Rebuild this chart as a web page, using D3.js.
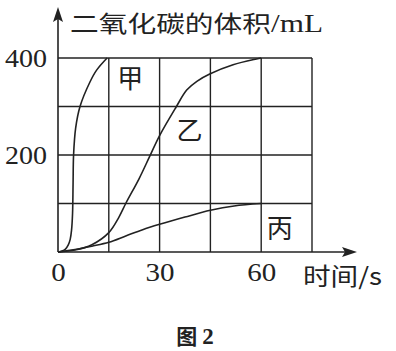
<!DOCTYPE html>
<html>
<head>
<meta charset="utf-8">
<script src="https://cdn.jsdelivr.net/npm/d3@7"></script>
<style>
  body { margin: 0; background: #fff; }
  .grid line { stroke: #222; stroke-width: 1.4; }
  .curve { fill: none; stroke: #222; stroke-width: 1.6; }
  .cn { font-family: "Noto Sans CJK SC", sans-serif; fill: #222; }
  .num { font-family: "Liberation Serif", serif; fill: #222; }
</style>
</head>
<body>
<script>
// time (s) / volume (mL)
const gridTimes = [15, 30, 45, 60, 75];
const gridVolumes = [100, 200, 300, 400];
const xTicks = [0, 30, 60];
const yTicks = [200, 400];

const jia = [[0,0],[1.2,2],[2.2,6],[3,14],[3.6,26],[4.0,45],[4.3,80],[4.45,140],[4.6,200],[5.2,255],[6.5,300],[9.4,350],[11.4,375],[14.5,400]];
const yi = [[0,0],[5,4],[10,15],[15,40],[18,72],[20,100],[24,152],[27,196],[30,240],[34.8,298],[38,334],[41,352],[44.8,367],[51.7,386],[58.6,398],[60,400]];
const bing = [[0,0],[5,5],[10,12],[15,20],[20,33],[25,46],[30,57],[37.5,72],[45,86],[52,95],[60,100]];

const labels = [
  {text: "甲", t: 21.3, v: 362},
  {text: "乙", t: 38.8, v: 255},
  {text: "丙", t: 65.5, v: 52}
];

const width = 396, height = 351;
const svg = d3.select("body").append("svg")
  .attr("width", width)
  .attr("height", height);

let x = d3.scaleLinear().domain([0, 75]).range([58, 312]);
let y = d3.scaleLinear().domain([0, 400]).range([252, 58]);

// grid
let grid = svg.append("g").attr("class", "grid");
grid.selectAll(".gx").data(gridTimes).enter().append("line")
  .attr("x1", d => x(d)).attr("x2", d => x(d))
  .attr("y1", y(0)).attr("y2", y(400));
grid.selectAll(".gy").data(gridVolumes).enter().append("line")
  .attr("x1", x(0)).attr("x2", x(75))
  .attr("y1", d => y(d)).attr("y2", d => y(d));

// axes with arrows
svg.append("line").attr("x1", x(0)).attr("x2", x(0)).attr("y1", y(0)).attr("y2", 14)
  .attr("stroke", "#222").attr("stroke-width", 1.6);
svg.append("line").attr("x1", x(0)).attr("x2", 350).attr("y1", y(0)).attr("y2", y(0))
  .attr("stroke", "#222").attr("stroke-width", 1.6);
svg.append("path")
  .attr("d", `M${x(0)},7 L${x(0)+5},22 L${x(0)},19 L${x(0)-5},22 Z`)
  .attr("fill", "#222");
svg.append("path")
  .attr("d", `M357,${y(0)} L342,${y(0)-5} L345,${y(0)} L342,${y(0)+5} Z`)
  .attr("fill", "#222");

// tick labels
let yaxis = svg.append("g")
  .attr("transform", "translate(" + x(0) + ",0)")
  .call(d3.axisLeft(y).tickValues(yTicks).tickSize(0).tickPadding(11));
yaxis.select(".domain").remove();
yaxis.selectAll("text")
  .attr("class", "num")
  .attr("font-size", 25)
  .attr("dy", "0.33em")
  .attr("textLength", d => String(d).length * 14)
  .attr("lengthAdjust", "spacingAndGlyphs");

let xaxis = svg.append("g")
  .attr("transform", "translate(0," + y(0) + ")")
  .call(d3.axisBottom(x).tickValues(xTicks).tickSize(0));
xaxis.select(".domain").remove();
xaxis.selectAll("text")
  .attr("class", "num")
  .attr("font-size", 25)
  .attr("y", 29)
  .attr("dy", 0)
  .attr("textLength", d => String(d).length * 14.5)
  .attr("lengthAdjust", "spacingAndGlyphs");
svg.selectAll(".tick text").attr("fill", "#222").style("font-family", '"Liberation Serif", serif');

// curves
let line = d3.line()
  .x(d => x(d[0]))
  .y(d => y(d[1]))
  .curve(d3.curveCatmullRom.alpha(0.5));
[jia, yi, bing].forEach(function(s) {
  svg.append("path").attr("class", "curve").attr("d", line(s));
});

// curve names
svg.selectAll(".lbl").data(labels).enter().append("text")
  .attr("class", "cn")
  .attr("x", d => x(d.t))
  .attr("y", d => y(d.v))
  .attr("text-anchor", "middle")
  .attr("dominant-baseline", "central")
  .attr("font-size", 26)
  .text(d => d.text);

// axis titles
let title = svg.append("text")
  .attr("x", 70).attr("y", 32)
  .attr("font-size", 23)
  .attr("textLength", 253)
  .attr("lengthAdjust", "spacingAndGlyphs");
title.append("tspan").attr("class", "cn").text("二氧化碳的体积");
title.append("tspan").attr("class", "num").attr("font-size", 25).text("/mL");

svg.append("text")
  .attr("class", "cn")
  .attr("x", 303).attr("y", 285)
  .attr("font-size", 24)
  .attr("textLength", 79)
  .attr("lengthAdjust", "spacingAndGlyphs")
  .text("时间/s");

let cap = svg.append("text")
  .attr("x", 195).attr("y", 344)
  .attr("text-anchor", "middle")
  .attr("font-weight", "bold");
cap.append("tspan").attr("class", "cn").attr("font-size", 21).text("图 ");
cap.append("tspan").attr("class", "num").attr("font-size", 23).text("2");
</script>
</body>
</html>
